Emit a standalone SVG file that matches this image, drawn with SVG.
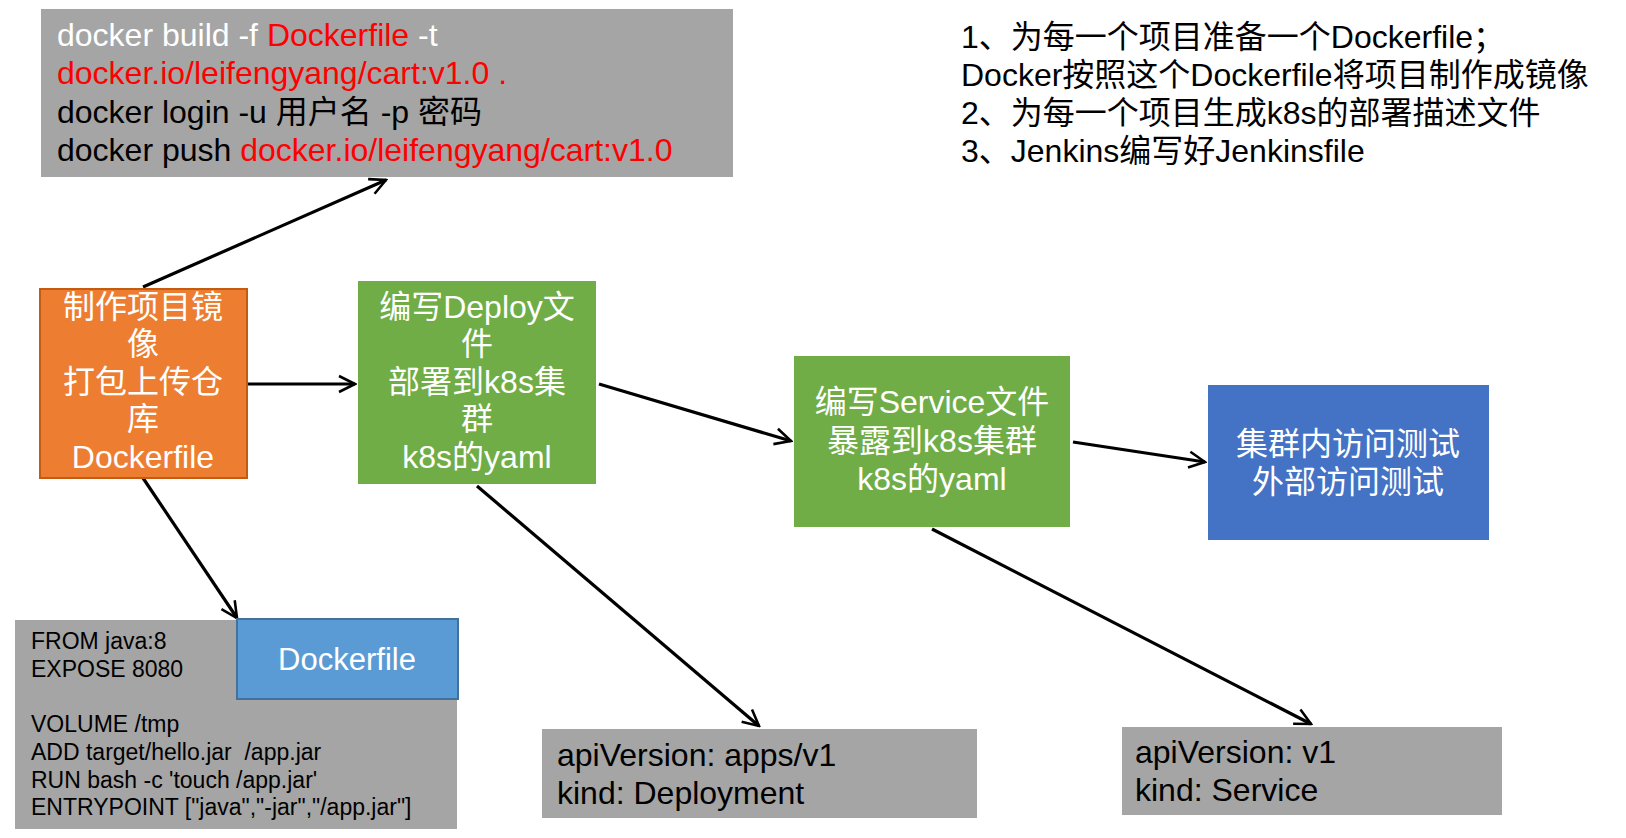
<svg xmlns="http://www.w3.org/2000/svg" width="1626" height="838" viewBox="0 0 1626 838">
<defs>
<style>
text{font-family:"Liberation Sans","Noto Sans CJK SC",sans-serif;}
.big{font-size:32px;}
.mid{font-size:31px;}
.small{font-size:23px;fill:#000;}
.w{fill:#fff;}
.r{fill:#ff0000;}
.k{fill:#000;}
.grey{fill:#a5a5a5;}
.conn{stroke:#000;stroke-width:3.2;fill:none;}
</style>
<marker id="arr" viewBox="0 0 12 12" refX="11" refY="6" markerWidth="6" markerHeight="6" orient="auto" markerUnits="strokeWidth">
<path d="M1,1 L11,6 L1,11" fill="none" stroke="#000" stroke-width="1.6"/>
</marker>
</defs>
<rect width="1626" height="838" fill="#fff"/>

<g id="connectors">
<line class="conn" x1="143" y1="287" x2="386" y2="180" marker-end="url(#arr)"/>
<line class="conn" x1="247" y1="384" x2="355" y2="384" marker-end="url(#arr)"/>
<line class="conn" x1="599" y1="384" x2="791" y2="441" marker-end="url(#arr)"/>
<line class="conn" x1="1073" y1="442" x2="1205" y2="462" marker-end="url(#arr)"/>
<line class="conn" x1="143" y1="478" x2="237" y2="618" marker-end="url(#arr)"/>
<line class="conn" x1="477" y1="486" x2="759" y2="726" marker-end="url(#arr)"/>
<line class="conn" x1="932" y1="529" x2="1311" y2="724" marker-end="url(#arr)"/>
</g>

<g id="docker-commands">
<rect class="grey" x="41" y="9" width="692" height="168"/>
<text class="big" x="57" y="46"><tspan class="w">docker build -f </tspan><tspan class="r">Dockerfile</tspan><tspan class="w"> -t</tspan></text>
<text class="big r" x="57" y="84">docker.io/leifengyang/cart:v1.0 .</text>
<text class="big k" x="57" y="123">docker login -u 用户名 -p 密码</text>
<text class="big" x="57" y="161"><tspan class="k">docker push </tspan><tspan class="r">docker.io/leifengyang/cart:v1.0</tspan></text>
</g>

<g id="notes">
<text class="big k" x="961" y="48">1、为每一个项目准备一个Dockerfile；</text>
<text class="big k" x="961" y="86">Docker按照这个Dockerfile将项目制作成镜像</text>
<text class="big k" x="961" y="124">2、为每一个项目生成k8s的部署描述文件</text>
<text class="big k" x="961" y="162">3、Jenkins编写好Jenkinsfile</text>
</g>

<g id="build-image">
<rect x="40" y="289" width="207" height="189" fill="#ed7d31" stroke="#c55a11" stroke-width="2"/>
<g class="big w" text-anchor="middle">
<text x="143" y="318">制作项目镜</text>
<text x="143" y="355">像</text>
<text x="143" y="393">打包上传仓</text>
<text x="143" y="430">库</text>
<text x="143" y="468">Dockerfile</text>
</g>
</g>

<g id="deploy">
<rect x="358" y="281" width="238" height="203" fill="#70ad47"/>
<g class="big w" text-anchor="middle">
<text x="477" y="318">编写Deploy文</text>
<text x="477" y="355">件</text>
<text x="477" y="393">部署到k8s集</text>
<text x="477" y="430">群</text>
<text x="477" y="468">k8s的yaml</text>
</g>
</g>

<g id="service">
<rect x="794" y="356" width="276" height="171" fill="#70ad47"/>
<g class="big w" text-anchor="middle">
<text x="932" y="413">编写Service文件</text>
<text x="932" y="452">暴露到k8s集群</text>
<text x="932" y="490">k8s的yaml</text>
</g>
</g>

<g id="test">
<rect x="1208" y="385" width="281" height="155" fill="#4472c4"/>
<g class="big w" text-anchor="middle">
<text x="1348" y="455">集群内访问测试</text>
<text x="1348" y="493">外部访问测试</text>
</g>
</g>

<g id="dockerfile-content">
<rect class="grey" x="15" y="620" width="442" height="209"/>
<text class="small" x="31" y="649">FROM java:8</text>
<text class="small" x="31" y="677">EXPOSE 8080</text>
<text class="small" x="31" y="732">VOLUME /tmp</text>
<text class="small" x="31" y="760">ADD target/hello.jar&#160; /app.jar</text>
<text class="small" x="31" y="788">RUN bash -c 'touch /app.jar'</text>
<text class="small" x="31" y="815">ENTRYPOINT ["java","-jar","/app.jar"]</text>
</g>

<g id="dockerfile-label">
<rect x="237" y="619" width="221" height="80" fill="#5b9bd5" stroke="#41719c" stroke-width="2"/>
<text class="mid w" x="347" y="670" text-anchor="middle">Dockerfile</text>
</g>

<g id="deployment-yaml">
<rect class="grey" x="542" y="729" width="435" height="89"/>
<text class="big k" x="557" y="766">apiVersion: apps/v1</text>
<text class="big k" x="557" y="804">kind: Deployment</text>
</g>

<g id="service-yaml">
<rect class="grey" x="1122" y="727" width="380" height="88"/>
<text class="big k" x="1135" y="763">apiVersion: v1</text>
<text class="big k" x="1135" y="801">kind: Service</text>
</g>
</svg>
